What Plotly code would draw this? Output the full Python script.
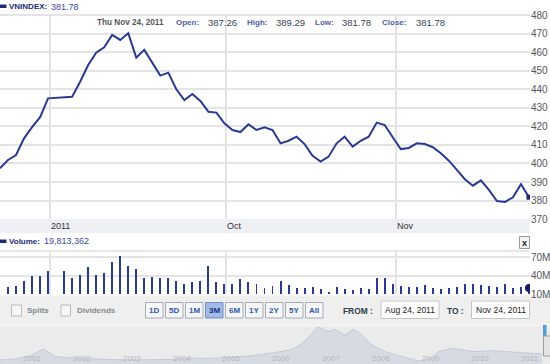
import plotly.graph_objects as go

# ---------------- data ----------------
price_close = [397.4, 401.9, 404.6, 413.6, 419.6, 425.0, 435.2, 435.5, 435.8, 436.1,
               444.2, 453.2, 459.9, 462.8, 469.5, 466.8, 470.4, 457.2, 461.4, 454.5,
               447.5, 449.1, 440.1, 434.3, 437.6, 433.8, 428.0, 427.5, 421.7, 418.1,
               417.0, 421.2, 418.1, 419.6, 418.1, 410.9, 412.3, 414.5, 410.5, 404.2,
               401.0, 403.7, 410.9, 414.5, 409.1, 412.3, 414.5, 422.1, 420.8, 414.2,
               407.8, 408.4, 410.9, 410.5, 408.8, 405.5, 401.5, 396.5, 391.5, 388.0,
               390.9, 385.7, 379.7, 379.2, 381.7, 388.8, 381.78]
volume_m = [None, 21.1, 22.7, 32.0, 39.0, 39.0, 46.7, None, 48.3, 36.4,
            41.3, 54.4, 41.3, 43.9, 61.9, 71.7, 55.4, 51.1, 36.4, 38.1,
            36.4, 36.4, 32.0, 25.5, 29.3, 32.0, 55.4, 29.3, 26.6, 26.6,
            33.7, 29.3, 26.6, 20.1, 22.7, 32.0, 25.0, 20.1, 20.1, 21.7,
            18.5, 12.9, 21.7, 18.5, 17.3, 19.5, 18.5, 36.4, 36.4, 26.6,
            22.7, 21.7, 21.7, 24.4, 20.1, 18.5, 20.1, 21.7, 26.6, 25.5,
            23.9, 22.7, 21.7, 26.6, 20.1, 21.9, 19.813362]
day_index = list(range(len(price_close)))
month_ticks = [6.24, 28.2, 49.41]
month_labels = ["2011", "Oct", "Nov"]
price_ticks = [370, 380, 390, 400, 410, 420, 430, 440, 450, 460, 470, 480]
vol_ticks = [10e6, 40e6, 70e6]
vol_tick_labels = ["10M", "40M", "70M"]

hist_years = [2000.55, 2000.86, 2001.16, 2001.32, 2001.42, 2001.52, 2001.66, 2001.96,
              2002.36, 2002.76, 2003.17, 2003.57, 2003.97, 2004.37, 2004.77, 2005.17,
              2005.57, 2006.08, 2006.38, 2006.58, 2006.74, 2006.94, 2007.14, 2007.28,
              2007.48, 2007.64, 2007.78, 2008.02, 2008.29, 2008.63, 2008.95, 2009.23,
              2009.35, 2009.63, 2009.83, 2010.09, 2010.43, 2010.76, 2011.16, 2011.44]
hist_values = [277, 304, 384, 492, 573, 492, 371, 331, 304, 290, 277, 277, 290, 331,
               317, 344, 384, 478, 546, 680, 868, 1172, 1038, 1102, 949, 1102, 1003,
               680, 500, 366, 250, 323, 500, 591, 546, 500, 527, 500, 457, 438]
nav_year_labels = [2001, 2002, 2003, 2004, 2005, 2006, 2007, 2008, 2009, 2010, 2011]
range_buttons = ["1D", "5D", "1M", "3M", "6M", "1Y", "2Y", "5Y", "All"]
selected_button = "3M"

title_name = "VNINDEX:"
last_close = "381.78"
ohlc_date = "Thu Nov 24, 2011"
ohlc = [("Open:", "387.26"), ("High:", "389.29"), ("Low:", "381.78"), ("Close:", "381.78")]
volume_text = "19,813,362"
from_date = "Aug 24, 2011"
to_date = "Nov 24, 2011"

# ---------------- layout helpers ----------------
W, H = 550, 364
def fx(px):
    return px / W
def fy(py):
    return 1 - py / H

NAVY = "#2b3990"
FONT = "Liberation Sans"
X_RANGE = [0, 66 * 530 / 529]

fig = go.Figure()

fig.add_trace(go.Scatter(x=day_index, y=price_close, mode="lines",
                         line=dict(color=NAVY, width=2), xaxis="x", yaxis="y",
                         hoverinfo="skip"))
fig.add_trace(go.Scatter(x=[day_index[-1]], y=[price_close[-1]], mode="markers",
                         marker=dict(color="#1a2470", size=5, symbol="square"),
                         xaxis="x", yaxis="y", hoverinfo="skip"))
fig.add_trace(go.Bar(x=day_index, y=[None if v is None else v * 1e6 for v in volume_m],
                     width=0.12, marker=dict(color=NAVY, line=dict(width=0)),
                     xaxis="x2", yaxis="y2", hoverinfo="skip"))
fig.add_trace(go.Scatter(x=[day_index[-1]], y=[volume_m[-1] * 1e6], mode="markers",
                         marker=dict(color="#141c66", size=8),
                         xaxis="x2", yaxis="y2", hoverinfo="skip"))
fig.add_trace(go.Scatter(x=hist_years, y=hist_values, mode="lines", fill="tozeroy",
                         line=dict(color="#c4cbd6", width=1),
                         fillcolor="rgba(205,212,224,0.75)",
                         xaxis="x3", yaxis="y3", hoverinfo="skip"))

shapes = []
def rect(x0, y0, x1, y1, fill, line=None, lw=1, layer="below"):
    shapes.append(dict(type="rect", xref="paper", yref="paper",
                       x0=fx(x0), x1=fx(x1), y0=fy(y1), y1=fy(y0),
                       fillcolor=fill, layer=layer,
                       line=dict(color=line if line else fill, width=lw if line else 0)))

# backgrounds
rect(0, 219, 529.5, 233, "#eef0f4")
rect(0, 295.5, 550, 325, "#efefef")
rect(0, 325, 550, 326, "#f7f7f7")
rect(0, 326, 550, 364, "#ebebeb")
shapes.append(dict(type="line", xref="paper", yref="paper", x0=0, x1=fx(529.5),
                   y0=fy(251), y1=fy(251), line=dict(color="#e2e2e2", width=1.5), layer="below"))
# close button
rect(519.5, 236.5, 529.5, 248.5, "#f2f2f2", "#9a9a9a", 1, "above")
# checkboxes
rect(11.5, 305, 21.5, 316, "#f7f7f7", "#b9b9b9", 1, "above")
rect(61, 305, 70.5, 316, "#f7f7f7", "#b9b9b9", 1, "above")
# range buttons
for i, b in enumerate(range_buttons):
    x0 = 145.5 + 20 * i
    if b == selected_button:
        rect(x0, 302.5, x0 + 17.5, 318, "#9fbbe6", "#6f8fc4", 1, "above")
    else:
        rect(x0, 302.5, x0 + 17.5, 318, "#f5f6f8", "#a6abb3", 1, "above")
# date boxes
rect(381, 301, 439, 318.5, "#ffffff", "#c4c4c4", 1, "above")
rect(471.5, 301, 529.5, 318.5, "#ffffff", "#c4c4c4", 1, "above")
# navigator handles
rect(543, 325, 546.5, 336, "#5b9bd5", None, 0, "above")
rect(543.5, 336, 551, 356, "#e4e4e4", "#9c9c9c", 1, "above")
# legend squares
rect(0, 4.5, 6.5, 8, "#1c2a7a", None, 0, "above")
rect(0, 239.5, 6.5, 243, "#1c2a7a", None, 0, "above")

ann = []
def text(x, y, s, size=8, color="#333", bold=False, anchor="left", xref="paper", family=FONT):
    ann.append(dict(x=fx(x) if xref == "paper" else x, y=fy(y), xref=xref, yref="paper",
                    text=f"<b>{s}</b>" if bold else s, showarrow=False,
                    xanchor=anchor, yanchor="middle",
                    font=dict(size=size, color=color, family=family), borderpad=0))

text(8, 6.5, title_name, 8, "#1c2a7a", True)
text(50, 6.5, last_close, 9, "#3a4aa0")
text(96, 22, ohlc_date, 8.2, "#555555", True)
ohlc_x = [(175, 207), (246, 275), (314, 341), (381, 415)]
for (lab, val), (xl, xv) in zip(ohlc, ohlc_x):
    text(xl, 22, lab, 8, "#5060a8", True)
    text(xv, 22, val, 9.5, "#36454f")
for t, lab in zip(month_ticks, month_labels):
    ann.append(dict(x=t, y=fy(226), xref="x", yref="paper", text=lab, showarrow=False,
                    xanchor="left", yanchor="middle", borderpad=0,
                    font=dict(size=9, color="#333333", family=FONT)))
text(8, 241, "Volume:", 8, "#1c2a7a", True)
text(43, 241, volume_text, 9, "#3a4aa0")
text(524.5, 242.5, "x", 9, "#222222", True, "center")
text(26, 310.5, "Splits", 8, "#7d8b93", True)
text(76, 310.5, "Dividends", 8, "#7d8b93", True)
for i, b in enumerate(range_buttons):
    x0 = 145.5 + 20 * i
    col = "#1a2f80" if b == selected_button else "#3355aa"
    text(x0 + 8.75, 310.5, b, 8, col, True, "center")
text(342, 310.5, "FROM :", 8.4, "#2d3e4a", True)
text(384, 310, from_date, 8.5, "#222222")
text(446, 310.5, "TO :", 8.4, "#2d3e4a", True)
text(474.5, 310, to_date, 8.5, "#222222")
for yr in nav_year_labels:
    ann.append(dict(x=yr, y=fy(358), xref="x3", yref="paper", text=str(yr), showarrow=False,
                    xanchor="left", yanchor="middle", borderpad=0,
                    font=dict(size=8, color="#b8b8b8", family=FONT)))

grid = "#e4e4e4"
fig.update_layout(
    width=W, height=H, margin=dict(l=0, r=0, t=0, b=0),
    paper_bgcolor="white", plot_bgcolor="rgba(0,0,0,0)",
    showlegend=False, font=dict(family=FONT), hovermode=False,
    shapes=shapes, annotations=ann, bargap=0,
    xaxis=dict(domain=[0, fx(530)], range=X_RANGE, tickvals=month_ticks, showticklabels=False,
               showgrid=True, gridcolor=grid, gridwidth=1.5, zeroline=False, showline=False,
               ticks=""),
    yaxis=dict(domain=[fy(219), fy(14)], range=[370, 480.8], side="right", tickvals=price_ticks,
               showgrid=True, gridcolor=grid, gridwidth=1.5, zeroline=False, ticks="",
               tickfont=dict(size=10, color="#555555", family=FONT), automargin=False,
               anchor="x"),
    xaxis2=dict(domain=[0, fx(530)], range=X_RANGE, tickvals=month_ticks, showticklabels=False,
                showgrid=True, gridcolor=grid, gridwidth=1.5, zeroline=False, anchor="y2",
                ticks="", matches=None),
    yaxis2=dict(domain=[fy(294), fy(251)], range=[10e6, 80.1e6], side="right",
                tickvals=vol_ticks, ticktext=vol_tick_labels, showgrid=True, gridcolor=grid,
                gridwidth=1.5, zeroline=False, ticks="", automargin=False, anchor="x2",
                tickfont=dict(size=10, color="#555555", family=FONT)),
    xaxis3=dict(domain=[0, fx(545)], range=[2000.554, 2011.498], visible=False, anchor="y3"),
    yaxis3=dict(domain=[0, fy(325)], range=[169, 1218], visible=False, anchor="x3"),
)

fig.write_html("out.html", config={"displayModeBar": False})
